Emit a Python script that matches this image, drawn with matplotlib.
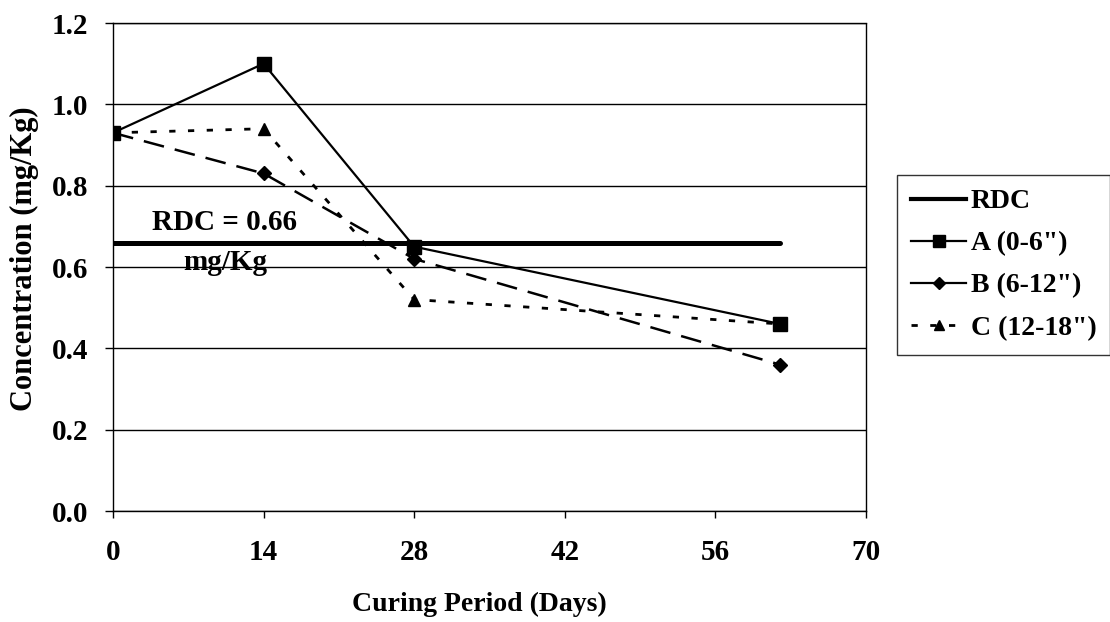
import matplotlib
matplotlib.use("Agg")
import matplotlib.pyplot as plt
from matplotlib.lines import Line2D

plt.rcParams['font.family'] = ['Liberation Serif', 'DejaVu Serif']
plt.rcParams['font.weight'] = 'bold'
plt.rcParams['lines.scale_dashes'] = False

# Data
days = [0, 14, 28, 62]
rdc_days = [0, 62]
rdc_values = [0.66, 0.66]
series_a = [0.93, 1.10, 0.65, 0.46]
series_b = [0.93, 0.83, 0.62, 0.36]
series_c = [0.93, 0.94, 0.52, 0.46]
labels = ['RDC', 'A (0-6")', 'B (6-12")', 'C (12-18")']
x_ticks = [0, 14, 28, 42, 56, 70]
y_ticks = [0.0, 0.2, 0.4, 0.6, 0.8, 1.0, 1.2]

fig = plt.figure(figsize=(11.10, 6.22), dpi=100)
ax = fig.add_axes([113/1110, 1 - 511/622, 753/1110, 488/622])

ax.plot(rdc_days, rdc_values, color='black', lw=3.6, solid_capstyle='round', zorder=3)
ax.plot(days, series_a, color='black', lw=1.6, marker='s', ms=10, zorder=5)
ax.plot(days, series_b, color='black', lw=1.8, linestyle=(0, (15, 8)), marker='D', ms=7.5, zorder=4)
ax.plot(days, series_c, color='black', lw=2.0, linestyle=(0, (4.5, 9)), marker='^', ms=9, zorder=4)

ax.set_xlim(0, 70)
ax.set_ylim(0, 1.2)
ax.set_xticks(x_ticks)
ax.set_yticks(y_ticks)
ax.set_yticklabels([f"{v:.1f}" for v in y_ticks])
ax.yaxis.grid(True, color='black', lw=1.0)
ax.set_axisbelow(True)
for s in ax.spines.values():
    s.set_color('black')
    s.set_linewidth(1.0)
ax.spines['right'].set_linestyle((0, (1, 1)))
ax.tick_params(axis='y', direction='out', length=6, width=1, pad=12, labelsize=21)
ax.tick_params(axis='x', direction='out', length=5, width=1, pad=15, labelsize=21)

ax.set_xlabel('Curing Period (Days)', fontsize=20, fontweight='bold')
ax.set_ylabel('Concentration (mg/Kg)', fontsize=22, fontweight='bold')
ax.xaxis.set_label_coords(0.487, -0.165)
ax.yaxis.set_label_coords(-0.098, 0.518)

ax.text(10.4, 0.71, 'RDC = 0.66', ha='center', va='center', fontsize=21, fontweight='bold')
ax.text(10.4, 0.61, 'mg/Kg', ha='center', va='center', fontsize=21, fontweight='bold')

handles = [
    Line2D([], [], color='black', lw=3.0),
    Line2D([], [], color='black', lw=1.6, marker='s', ms=8),
    Line2D([], [], color='black', lw=1.6, marker='D', ms=6),
    Line2D([], [], color='black', lw=2.0, linestyle=(0, (4.5, 9)), marker='^', ms=7.5),
]
leg = ax.legend(handles, labels, loc='upper left', bbox_to_anchor=(897/1110, 1 - 175/622),
                bbox_transform=fig.transFigure, borderaxespad=0, fontsize=20,
                handlelength=2.0, handletextpad=0.15, labelspacing=0.6,
                borderpad=0.5, fancybox=False, frameon=True)
leg.get_frame().set_edgecolor('black')
leg.get_frame().set_linewidth(1.0)
for t in leg.get_texts():
    t.set_fontweight('bold')

fig.savefig('out.png', dpi=100)
